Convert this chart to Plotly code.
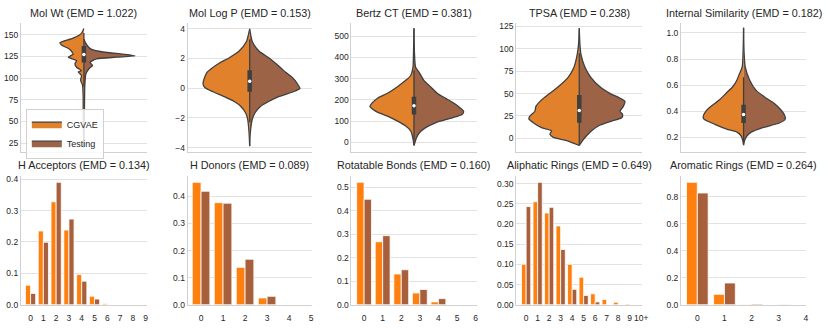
import plotly.graph_objects as go

W, H = 830, 329

# ---------------- violin profiles (value, half-width in category units) ----------------
molwt_cg_y = [157, 151.5, 146, 140.6, 138, 133, 127.5, 124, 120, 116.5, 112.4, 108.6, 107, 103, 97.5, 92, 80, 50, 20]
molwt_cg_w = [0.0, 0.019, 0.085, 0.19, 0.177, 0.111, 0.085, 0.124, 0.058, 0.071, 0.058, 0.019, 0.045, 0.019, 0.026, 0.011, 0.006, 0.005, 0.0]
molwt_te_y = [145, 142, 136, 133, 130, 127.5, 125.6, 124, 122, 118, 114.6, 111, 105, 99.6, 90, 60, 20]
molwt_te_w = [0.0, 0.008, 0.034, 0.061, 0.153, 0.312, 0.405, 0.26, 0.10, 0.048, 0.069, 0.042, 0.016, 0.011, 0.007, 0.004, 0.0]

logp_cg_y = [4.0, 3.15, 2.5, 2.05, 1.7, 1.4, 1.07, 0.75, 0.3, 0.05, -0.24, -0.57, -0.9, -1.23, -1.67, -2.1, -3.0, -3.9]
logp_cg_w = [0.0, 0.026, 0.085, 0.164, 0.243, 0.296, 0.344, 0.362, 0.376, 0.362, 0.296, 0.204, 0.124, 0.071, 0.032, 0.016, 0.005, 0.0]
logp_te_y = [4.0, 3.15, 2.5, 2.05, 1.6, 1.2, 0.85, 0.53, 0.2, -0.02, -0.24, -0.57, -0.9, -1.23, -1.67, -2.1, -3.0, -3.9]
logp_te_w = [0.0, 0.021, 0.074, 0.153, 0.22, 0.272, 0.325, 0.365, 0.392, 0.405, 0.352, 0.233, 0.153, 0.087, 0.042, 0.021, 0.005, 0.0]

bertz_cg_y = [538, 420, 354, 315, 292, 262, 231, 208, 185, 169, 146, 123, 100, 77, 54, 31, 10, -15]
bertz_cg_w = [0.0, 0.004, 0.008, 0.026, 0.066, 0.132, 0.212, 0.291, 0.336, 0.352, 0.304, 0.212, 0.132, 0.066, 0.026, 0.013, 0.006, 0.0]
bertz_te_y = [538, 420, 354, 331, 292, 262, 231, 208, 185, 162, 146, 131, 115, 92, 69, 46, 23, 0, -15]
bertz_te_w = [0.0, 0.004, 0.013, 0.04, 0.079, 0.132, 0.185, 0.251, 0.317, 0.37, 0.397, 0.384, 0.304, 0.172, 0.093, 0.045, 0.021, 0.008, 0.0]

tpsa_cg_y = [123, 105, 94, 79.4, 68.5, 57.6, 50.3, 43, 35.7, 30.2, 24.8, 21.9, 17.5, 12, 8.4, 4.7, 1.1, -2.5, -8]
tpsa_cg_w = [0.0, 0.006, 0.016, 0.042, 0.087, 0.167, 0.233, 0.299, 0.344, 0.352, 0.392, 0.4, 0.365, 0.299, 0.22, 0.233, 0.206, 0.10, 0.0]
tpsa_te_y = [123, 105, 94, 79.4, 68.5, 57.6, 50.3, 44.8, 41.2, 35.7, 30.2, 26.6, 23, 19.3, 13.8, 8.4, 2.9, -2.5, -8]
tpsa_te_w = [0.0, 0.005, 0.013, 0.045, 0.09, 0.164, 0.243, 0.323, 0.362, 0.349, 0.323, 0.344, 0.336, 0.257, 0.151, 0.098, 0.058, 0.026, 0.0]

sim_cg_y = [1.04, 0.85, 0.74, 0.69, 0.64, 0.59, 0.54, 0.49, 0.44, 0.40, 0.36, 0.34, 0.30, 0.26, 0.24, 0.21, 0.17, 0.14]
sim_cg_w = [0.0, 0.004, 0.011, 0.032, 0.053, 0.085, 0.138, 0.19, 0.257, 0.302, 0.323, 0.317, 0.23, 0.124, 0.053, 0.019, 0.005, 0.0]
sim_te_y = [1.04, 0.85, 0.74, 0.64, 0.56, 0.51, 0.46, 0.41, 0.375, 0.34, 0.31, 0.275, 0.24, 0.21, 0.17, 0.14]
sim_te_w = [0.0, 0.004, 0.013, 0.048, 0.10, 0.167, 0.246, 0.299, 0.325, 0.333, 0.286, 0.153, 0.061, 0.026, 0.006, 0.0]

# inner box: [whisker_low, q1, median, q3, whisker_high]
molwt_box = [90, 118, 127, 137, 152]
logp_box = [-2.3, -0.24, 0.46, 1.2, 3.3]
bertz_box = [5, 131, 172, 215, 340]
tpsa_box = [-8, 17.5, 31, 48.5, 95]
sim_box = [0.15, 0.31, 0.375, 0.45, 0.66]

# ---------------- bar data ----------------
hacc_labels = ["0", "1", "2", "3", "4", "5", "6", "7", "8", "9"]
hacc_cg = [0.062, 0.235, 0.328, 0.238, 0.096, 0.027, 0.003, 0, 0, 0]
hacc_te = [0.036, 0.199, 0.390, 0.273, 0.075, 0.018, 0.0, 0, 0, 0]

hdon_labels = ["0", "1", "2", "3", "4", "5"]
hdon_cg = [0.452, 0.377, 0.138, 0.025, 0, 0]
hdon_te = [0.419, 0.375, 0.168, 0.031, 0, 0]

rot_labels = ["0", "1", "2", "3", "4", "5", "6"]
rot_cg = [0.521, 0.268, 0.131, 0.050, 0.012, 0, 0]
rot_te = [0.449, 0.294, 0.149, 0.065, 0.026, 0, 0]

ali_labels = ["0", "1", "2", "3", "4", "5", "6", "7", "8", "9", "10+"]
ali_cg = [0.100, 0.255, 0.227, 0.195, 0.100, 0.068, 0.027, 0.013, 0.006, 0.002, 0]
ali_te = [0.243, 0.303, 0.241, 0.137, 0.038, 0.023, 0.007, 0, 0, 0, 0]

aro_labels = ["0", "1", "2", "3", "4"]
aro_cg = [0.907, 0.077, 0.002, 0, 0]
aro_te = [0.828, 0.161, 0.006, 0.001, 0]

series_names = ["CGVAE", "Testing"]

violin_titles = ["Mol Wt (EMD = 1.022)", "Mol Log P (EMD = 0.153)", "Bertz CT (EMD = 0.381)",
                 "TPSA (EMD = 0.238)", "Internal Similarity (EMD = 0.182)"]
bar_titles = ["H Acceptors (EMD = 0.134)", "H Donors (EMD = 0.089)", "Rotatable Bonds (EMD = 0.160)",
              "Aliphatic Rings (EMD = 0.649)", "Aromatic Rings (EMD = 0.264)"]

# ---------------- styles ----------------
V_ORANGE = "#e1812c"
V_BROWN = "#9c6346"
B_ORANGE = "#ff800e"
B_BROWN = "#a85f3c"
EDGE = "#3f3f3f"
GRID = "#e2e2e2"
SPINE = "#d0d0d0"
TXT = "#262626"
FONT = "Liberation Sans, Arial, sans-serif"
TICK = dict(size=8.5, color=TXT, family=FONT)

col_px = [(21, 148), (189, 314), (354, 480), (520, 647), (686, 812)]
top_px = (21, 153)
bot_px = (178, 309.3)

def xd(a, b):
    return [a / W, b / W]

def yd(t, b):
    return [1 - b / H, 1 - t / H]

fig = go.Figure()
layout = {}

def axname(i):
    return ("x" if i == 1 else f"x{i}"), ("y" if i == 1 else f"y{i}")

violins = [
    (molwt_cg_y, molwt_cg_w, molwt_te_y, molwt_te_w, molwt_box, [15.2, 163.9], 25, None),
    (logp_cg_y, logp_cg_w, logp_te_y, logp_te_w, logp_box, [-4.28, 4.42], 2, None),
    (bertz_cg_y, bertz_cg_w, bertz_te_y, bertz_te_w, bertz_box, [-44.6, 564.6], 100, None),
    (tpsa_cg_y, tpsa_cg_w, tpsa_te_y, tpsa_te_w, tpsa_box, [-15, 129.4], 25, None),
    (sim_cg_y, sim_cg_w, sim_te_y, sim_te_w, sim_box, [0.09, 1.08], 0.2, ".1f"),
]

for k, (cy, cw, ty, tw, box, yr, dt, fmt) in enumerate(violins):
    i = k + 1
    xa, ya = axname(i)
    fig.add_trace(go.Scatter(x=[-w for w in cw], y=cy, fill="toself", fillcolor=V_ORANGE,
                             mode="lines", line=dict(color=EDGE, width=1.3, shape="spline", smoothing=0.6),
                             name=series_names[0], showlegend=(k == 0), legendgroup="cg",
                             xaxis=xa, yaxis=ya, hoverinfo="skip"))
    fig.add_trace(go.Scatter(x=tw, y=ty, fill="toself", fillcolor=V_BROWN,
                             mode="lines", line=dict(color=EDGE, width=1.3, shape="spline", smoothing=0.6),
                             name=series_names[1], showlegend=(k == 0), legendgroup="te",
                             xaxis=xa, yaxis=ya, hoverinfo="skip"))
    fig.add_trace(go.Scatter(x=[0, 0], y=[box[0], box[4]], mode="lines",
                             line=dict(color=EDGE, width=1.3), showlegend=False,
                             xaxis=xa, yaxis=ya, hoverinfo="skip"))
    fig.add_trace(go.Scatter(x=[0, 0], y=[box[1], box[3]], mode="lines",
                             line=dict(color=EDGE, width=4.5), showlegend=False,
                             xaxis=xa, yaxis=ya, hoverinfo="skip"))
    fig.add_trace(go.Scatter(x=[0], y=[box[2]], mode="markers",
                             marker=dict(color="white", size=3.5), showlegend=False,
                             xaxis=xa, yaxis=ya, hoverinfo="skip"))
    a, b = col_px[k]
    layout[f"xaxis{'' if i == 1 else i}"] = dict(
        domain=xd(a, b), anchor=ya, range=[-0.5, 0.5], showticklabels=False, showgrid=False,
        zeroline=False, showline=True, linecolor=SPINE, linewidth=1, ticks="", fixedrange=True)
    layout[f"yaxis{'' if i == 1 else i}"] = dict(
        domain=yd(*top_px), anchor=xa, range=yr, dtick=dt, tick0=0, tickformat=fmt,
        showgrid=True, gridcolor=GRID, gridwidth=1, zeroline=False, showline=True,
        linecolor=SPINE, linewidth=1, ticks="", tickfont=TICK)

bars = [
    (hacc_labels, hacc_cg, hacc_te, [-0.76, 9.1], 0.1, ".1f"),
    (hdon_labels, hdon_cg, hdon_te, [-0.61, 5.03], 0.1, ".1f"),
    (rot_labels, rot_cg, rot_te, [-0.68, 6.05], 0.1, ".1f"),
    (ali_labels, ali_cg, ali_te, [-0.86, 10.1], 0.05, ".2f"),
    (aro_labels, aro_cg, aro_te, [-0.6, 4.01], 0.2, ".1f"),
]

for k, (labels, cg, te, xr, dt, fmt) in enumerate(bars):
    i = k + 6
    xa, ya = axname(i)
    fig.add_trace(go.Bar(x=labels, y=cg, name=series_names[0], marker=dict(color=B_ORANGE, line=dict(color="white", width=0.8)),
                         showlegend=False, xaxis=xa, yaxis=ya, offsetgroup="cg"))
    fig.add_trace(go.Bar(x=labels, y=te, name=series_names[1], marker=dict(color=B_BROWN, line=dict(color="white", width=0.8)),
                         showlegend=False, xaxis=xa, yaxis=ya, offsetgroup="te"))
    a, b = col_px[k]
    ymax = max(max(cg), max(te)) * 1.05
    layout[f"xaxis{i}"] = dict(
        domain=xd(a, b), anchor=ya, range=xr, type="category", showgrid=False, zeroline=False,
        showline=True, linecolor=SPINE, linewidth=1, ticks="", tickangle=0, tickfont=TICK,
        ticklabelstandoff=5)
    layout[f"yaxis{i}"] = dict(
        domain=yd(*bot_px), anchor=xa, range=[0, ymax], dtick=dt, tick0=0, tickformat=fmt,
        showgrid=True, gridcolor=GRID, gridwidth=1, zeroline=False, showline=True,
        linecolor=SPINE, linewidth=1, ticks="", tickfont=TICK)

annotations = []
for k in range(5):
    a, b = col_px[k]
    annotations.append(dict(text=violin_titles[k], x=(a + b) / 2 / W, y=1 - 11 / H, xref="paper", yref="paper",
                            showarrow=False, xanchor="center", yanchor="middle",
                            font=dict(size=10.8, color=TXT, family=FONT)))
    annotations.append(dict(text=bar_titles[k], x=(a + b) / 2 / W, y=1 - 167 / H, xref="paper", yref="paper",
                            showarrow=False, xanchor="center", yanchor="middle",
                            font=dict(size=10.8, color=TXT, family=FONT)))

fig.update_layout(
    width=W, height=H, margin=dict(l=0, r=0, t=0, b=0),
    plot_bgcolor="white", paper_bgcolor="white",
    barmode="group", bargap=0.2, bargroupgap=0.0,
    annotations=annotations,
    legend=dict(x=26 / W, y=1 - 109 / H, xanchor="left", yanchor="top",
                bgcolor="rgba(255,255,255,0.85)", bordercolor="#d0d0d0", borderwidth=1,
                font=dict(size=9, color=TXT, family=FONT), itemwidth=30, tracegroupgap=0),
    font=dict(family=FONT, color=TXT),
    **layout,
)

fig.write_html("out.html", config={"displayModeBar": False},
               post_script="document.body.style.margin='0';document.body.style.padding='0';document.body.style.overflow='hidden';")
